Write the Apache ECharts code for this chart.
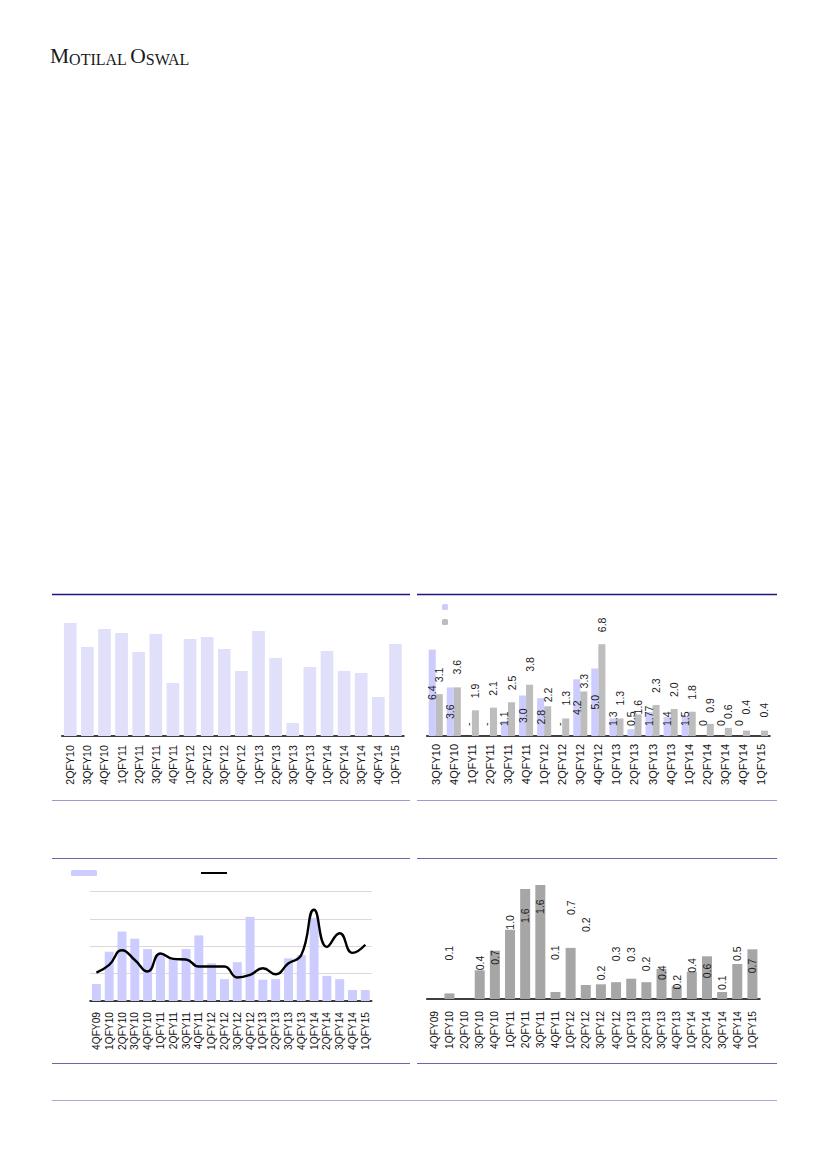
<!DOCTYPE html>
<html><head><meta charset="utf-8">
<script src="https://cdn.jsdelivr.net/npm/echarts@6/dist/echarts.min.js"></script>
<style>html,body{margin:0;padding:0;background:#fff}#c{width:827px;height:1169px}</style>
</head><body><div id="c"></div>
<script>
// ---------- data ----------
const cats1 = ['2QFY10','3QFY10','4QFY10','1QFY11','2QFY11','3QFY11','4QFY11','1QFY12','2QFY12','3QFY12','4QFY12','1QFY13','2QFY13','3QFY13','4QFY13','1QFY14','2QFY14','3QFY14','4QFY14','1QFY15'];
const vals1 = [11.3, 8.9, 10.7, 10.3, 8.4, 10.2, 5.3, 9.7, 9.9, 8.7, 6.5, 10.5, 7.8, 1.3, 6.9, 8.5, 6.5, 6.3, 3.9, 9.2];

const cats2 = ['3QFY10','4QFY10','1QFY11','2QFY11','3QFY11','4QFY11','1QFY12','2QFY12','3QFY12','4QFY12','1QFY13','2QFY13','3QFY13','4QFY13','1QFY14','2QFY14','3QFY14','4QFY14','1QFY15'];
const valsA2 = [6.4, 3.6, 0, 0, 1.1, 3.0, 2.8, 0, 4.2, 5.0, 1.3, 0.5, 1.77, 1.4, 1.5, 0, 0, 0, null];
const labelsA2 = ['6.4','3.6','-','-','1.1','3.0','2.8','-','4.2','5.0','1.3','0.5','1.77','1.4','1.5','0','0','0',''];
const valsB2 = [3.1, 3.6, 1.9, 2.1, 2.5, 3.8, 2.2, 1.3, 3.3, 6.8, 1.3, 1.6, 2.3, 2.0, 1.8, 0.9, 0.6, 0.4, 0.4];

const cats3 = ['4QFY09','1QFY10','2QFY10','3QFY10','4QFY10','1QFY11','2QFY11','3QFY11','4QFY11','1QFY12','2QFY12','3QFY12','4QFY12','1QFY13','2QFY13','3QFY13','4QFY13','1QFY14','2QFY14','3QFY14','4QFY14','1QFY15'];
const bars3 = [3.1, 9.0, 12.7, 11.4, 9.5, 8.4, 7.9, 9.5, 12.0, 6.9, 4.0, 7.1, 15.4, 3.9, 4.0, 7.8, 8.4, 15.2, 4.6, 4.0, 2.0, 2.0];
const line3 = [5.2, 6.6, 9.3, 7.5, 5.4, 8.7, 7.7, 7.6, 6.3, 6.3, 6.3, 4.3, 4.8, 6.0, 4.9, 6.9, 8.4, 16.7, 9.9, 12.4, 8.8, 10.3];

const cats4 = cats3.slice();
const vals4 = [null, 0.08, null, 0.41, 0.69, 0.99, 1.57, 1.63, 0.10, 0.73, 0.20, 0.21, 0.24, 0.29, 0.24, 0.43, 0.18, 0.39, 0.61, 0.10, 0.50, 0.71];
const labels4 = ['', '0.1', '', '0.4', '0.7', '1.0', '1.6', '1.6', '0.1', '0.7', '0.2', '0.2', '0.3', '0.3', '0.2', '0.4', '0.2', '0.4', '0.6', '0.1', '0.5', '0.7'];

// ---------- label styling (placement offsets, px) ----------
const liftB2 = [12, 13, 12, 12, 12, 13, 4, 13, 3, 12, 13, 0, 12, 12, 12, 11, 9, 16, 13];
const lift4 = [0, 33, 0, 0, -14, 0, -34, -29, 32, 33, 53, 4, 21, 17, 11, -11, -3, -1, -22, 2, 3, -24];

// ---------- chart ----------
const FONT = 'Liberation Sans';
const chart = echarts.init(document.getElementById('c'), null, {renderer: 'svg'});

function catAxis(idx, data, size, margin) {
  return {
    type: 'category', gridIndex: idx, data: data,
    axisLine: {show: true, lineStyle: {color: '#000', width: 1.5}},
    axisTick: {show: false},
    axisLabel: {rotate: 90, fontSize: size, fontFamily: FONT, color: '#111', margin: margin, interval: 0}
  };
}
function hiddenY(idx, max) {
  return {type: 'value', gridIndex: idx, min: 0, max: max, show: false, splitLine: {show: false}};
}
const valLabel = {show: true, rotate: 90, fontSize: 10.5, fontFamily: FONT, color: '#1a1a1a'};

const hline = (x1, x2, y, color, w) => ({
  type: 'line', silent: true,
  shape: {x1: x1, y1: y, x2: x2, y2: y},
  style: {stroke: color, lineWidth: w}
});

const option = {
  backgroundColor: '#fff',
  animation: false,
  grid: [
    {left: 61.7, top: 606, width: 342.3, height: 130},
    {left: 426.7, top: 628, width: 343.3, height: 108},
    {left: 90, top: 891.7, width: 281.7, height: 109.3},
    {left: 426.7, top: 859, width: 333.3, height: 140}
  ],
  xAxis: [
    catAxis(0, cats1, 10.7, 9),
    catAxis(1, cats2, 11, 8),
    catAxis(2, cats3, 10.2, 11),
    catAxis(3, cats4, 10.2, 12)
  ],
  yAxis: [
    hiddenY(0, 13),
    hiddenY(1, 8),
    {type: 'value', gridIndex: 2, min: 0, max: 20, interval: 5,
     axisLine: {show: false}, axisTick: {show: false}, axisLabel: {show: false},
     splitLine: {show: true, lineStyle: {color: '#d9d9d9', width: 1}}},
    hiddenY(3, 2)
  ],
  legend: [
    {data: ['Series 1', 'Series 2'], orient: 'vertical', left: 442, top: 604, padding: 0,
     itemWidth: 6, itemHeight: 6, itemGap: 9, formatter: () => '',
     textStyle: {fontSize: 6}, selectedMode: false},
    {data: ['Bars', {name: 'Line', itemStyle: {color: 'rgba(0,0,0,0)', borderColor: 'rgba(0,0,0,0)', borderWidth: 0}}],
     orient: 'horizontal', left: 71, top: 870, padding: 0,
     itemWidth: 26, itemHeight: 6, itemGap: 103, formatter: () => '',
     textStyle: {fontSize: 6}, selectedMode: false}
  ],
  graphic: [
    {type: 'text', left: 50, top: 45, silent: true,
     style: {text: '{b|M}{s|OTILAL} {b|O}{s|SWAL}', fill: '#1a1a1a',
       rich: {
         b: {fontSize: 21.5, fontFamily: 'Liberation Serif', fill: '#1a1a1a', verticalAlign: 'bottom', lineHeight: 22},
         s: {fontSize: 16, fontFamily: 'Liberation Serif', fill: '#1a1a1a', verticalAlign: 'bottom', lineHeight: 22}
       }}},
    hline(52, 410, 594.5, '#1c1680', 1.5),
    hline(417, 777, 594.5, '#1c1680', 1.5),
    hline(52, 410, 800.5, '#9c9cd0', 1.2),
    hline(417, 777, 800.5, '#9c9cd0', 1.2),
    hline(52, 410, 858.5, '#6a68aa', 1.2),
    hline(417, 777, 858.5, '#6a68aa', 1.2),
    hline(52, 410, 1063.5, '#6a68aa', 1.2),
    hline(417, 777, 1063.5, '#6a68aa', 1.2),
    hline(52, 777, 1100.5, '#a8a8dc', 1.2)
  ],
  series: [
    {type: 'bar', xAxisIndex: 0, yAxisIndex: 0, data: vals1,
     barCategoryGap: '26%', itemStyle: {color: '#e0e0fa'}},

    {type: 'bar', name: 'Series 1', xAxisIndex: 1, yAxisIndex: 1,
     barGap: '0%', barCategoryGap: '22%', itemStyle: {color: '#ccccff'},
     data: valsA2.map((v, i) => {
       const small = v !== null && v < 2.5;
       return {value: v, label: Object.assign({}, valLabel, small
         ? {position: 'insideBottom', distance: 10, align: 'left', verticalAlign: 'middle'}
         : {position: 'inside', align: 'center', verticalAlign: 'middle'},
         {formatter: () => labelsA2[i]})};
     })},
    {type: 'bar', name: 'Series 2', xAxisIndex: 1, yAxisIndex: 1,
     barGap: '0%', barCategoryGap: '22%', itemStyle: {color: '#bdbdbd'},
     data: valsB2.map((v, i) => ({value: v, label: Object.assign({}, valLabel,
       {position: 'top', distance: liftB2[i], align: 'left', verticalAlign: 'middle',
        formatter: p => p.value.toFixed(1)})}))},

    {type: 'bar', name: 'Bars', xAxisIndex: 2, yAxisIndex: 2, data: bars3,
     barCategoryGap: '30%', itemStyle: {color: '#ccccff'}},
    {type: 'line', name: 'Line', xAxisIndex: 2, yAxisIndex: 2, data: line3,
     smooth: 0.5, symbol: 'none', showSymbol: false, z: 5,
     lineStyle: {color: '#000', width: 2.4}, itemStyle: {color: '#000'}},

    {type: 'bar', xAxisIndex: 3, yAxisIndex: 3, barCategoryGap: '34%',
     itemStyle: {color: '#a6a6a6'},
     data: vals4.map((v, i) => ({value: v, label: Object.assign({}, valLabel,
       {position: 'top', distance: lift4[i], align: 'left', verticalAlign: 'middle',
        formatter: () => labels4[i]})}))}
  ]
};
chart.setOption(option);
</script>
</body></html>
